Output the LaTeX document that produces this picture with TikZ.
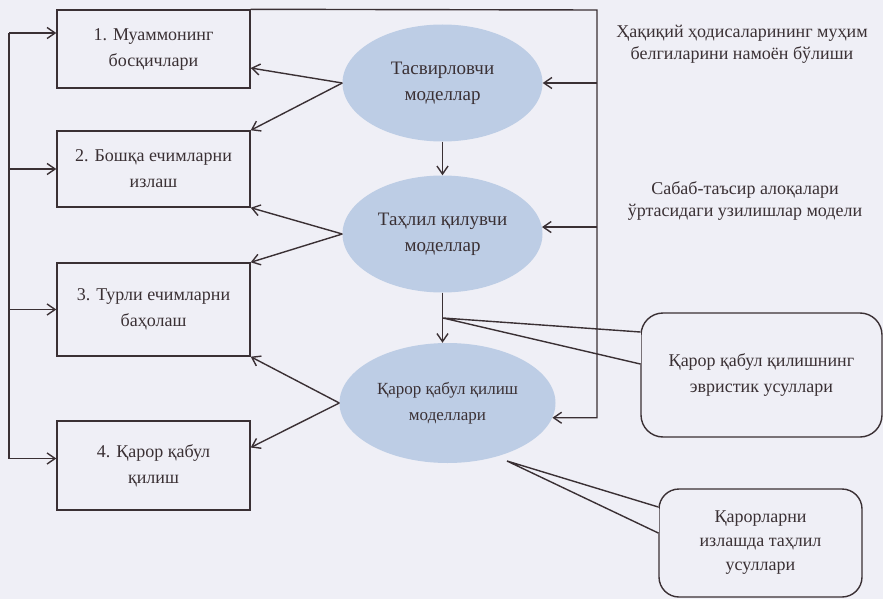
\documentclass[tikz,border=0pt]{standalone}
\usepackage{fontspec}
\setmainfont{Liberation Serif}
\usepackage{tikz}
\usetikzlibrary{shapes.geometric}
\usetikzlibrary{positioning}
\usetikzlibrary{arrows.meta}
\definecolor{paper}{RGB}{239,239,246}
\definecolor{ink}{RGB}{58,48,52}
\definecolor{oval}{RGB}{189,205,229}
\tikzstyle{stage} = [rectangle, minimum width=193pt, minimum height=78pt, text centered, draw=ink, line width=1.4pt]
\tikzstyle{model} = [ellipse, minimum width=200pt, minimum height=117pt, inner sep=0pt, text centered, fill=oval, font=\fontsize{19}{26}\selectfont]
\tikzstyle{note} = [text centered, font=\fontsize{18}{22}\selectfont]
\tikzstyle{bubble} = [rectangle, rounded corners=22pt, text centered, draw=ink, fill=paper, line width=1.4pt]
\tikzstyle{wire} = [draw=ink, line width=1.4pt]
\tikzstyle{arrow} = [wire, ->, >={Straight Barb[length=8pt,width=11pt]}]

\begin{document}
\begin{tikzpicture}[x=1pt, y=-1pt, node distance=120pt, font=\fontsize{18}{26}\selectfont, text=ink]
        \fill[paper] (0,0) rectangle (883,599);
        \useasboundingbox (0,0) rectangle (883,599);

        % stages on the left
        \node (stepOne) [stage, align=center] at (153.5,49) {1. Муаммонинг\\босқичлари};
        \node (stepTwo) [stage, below of=stepOne, minimum height=76pt, align=center] {2. Бошқа ечимларни\\излаш};
        \node (stepThree) [stage, below of=stepTwo, yshift=-20.5pt, minimum height=93pt, align=center] {3. Турли ечимларни\\баҳолаш};
        \node (stepFour) [stage, below of=stepThree, yshift=-36pt, minimum height=89pt, align=center] {4. Қарор қабул\\қилиш};

        % models in the middle
        \node (describe) [model, align=center] at (442.5,83) {Тасвирловчи\\моделлар};
        \node (analyse) [model, below of=describe, yshift=-31pt, align=center] {Таҳлил қилувчи\\моделлар};
        \node (decide) [model, below of=analyse, yshift=-49pt, xshift=5pt, minimum width=216pt, minimum height=120pt, align=center, font=\fontsize{17}{26}\selectfont] {Қарор қабул қилиш\\моделлари};

        % notes on the right
        \node (realSigns) [note, align=center] at (742,44) {Ҳақиқий ҳодисаларининг муҳим\\белгиларини намоён бўлиши};
        \node (causeGap) [note, align=center] at (745,201) {Сабаб-таъсир алоқалари\\ўртасидаги узилишлар модели};
        \node (heuristic) [bubble, minimum width=241pt, minimum height=124pt, align=center] at (761.5,375) {Қарор қабул қилишнинг\\эвристик усуллари};
        \node (searchTools) [bubble, rounded corners=20pt, minimum width=203pt, minimum height=108pt, align=center, font=\fontsize{18}{24}\selectfont] at (760.5,543) {Қарорларни\\излашда таҳлил\\усуллари};

        \coordinate (busTop) at (9,33);
        \coordinate (busEnd) at ([yshift=7pt]stepFour.west);
        \coordinate (frameTop) at (597,10);
        \coordinate (tipHeur) at (443,318);
        \coordinate (tipSearch) at (507,461);

        \draw [wire] (busTop) -- (busTop |- busEnd);
        \draw [arrow] (busTop) -- ([yshift=16pt]stepOne.west);
        \draw [arrow] (busTop |- stepTwo.west) -- (stepTwo.west);
        \draw [arrow] (busTop |- stepThree.west) -- (stepThree.west);
        \draw [arrow] (busTop |- busEnd) -- (busEnd);

        \draw [arrow] (describe.west) -- ([yshift=-19pt]stepOne.east);
        \draw [arrow] (describe.west) -- (stepTwo.north east);
        \draw [arrow] (analyse.west) -- (stepTwo.south east);
        \draw [arrow] (analyse.west) -- (stepThree.north east);
        \draw [arrow] (decide.west) -- (stepThree.south east);
        \draw [arrow] (decide.west) -- ([yshift=18pt]stepFour.east);

        \draw [arrow] (describe.south) -- (analyse.north);
        \draw [arrow] (analyse.south) -- (analyse.south |- decide.north);

        \draw [arrow] (stepOne.north east) -- (frameTop) |- (decide.-8);
        \draw [arrow] (frameTop |- describe.east) -- (describe.east);
        \draw [arrow] (frameTop |- analyse.4) -- (analyse.4);

        \fill [paper] ([xshift=-1pt, yshift=42pt]heuristic.west) rectangle ([xshift=1pt, yshift=12pt]heuristic.west);
        \draw [wire] ([yshift=43pt]heuristic.west) -- (tipHeur) -- ([yshift=11pt]heuristic.west);
        \fill [paper] ([xshift=-1pt, yshift=35pt]searchTools.west) rectangle ([xshift=1pt, yshift=11pt]searchTools.west);
        \draw [wire] ([yshift=36pt]searchTools.west) -- (tipSearch) -- ([yshift=10pt]searchTools.west);
    \end{tikzpicture}
\end{document}
